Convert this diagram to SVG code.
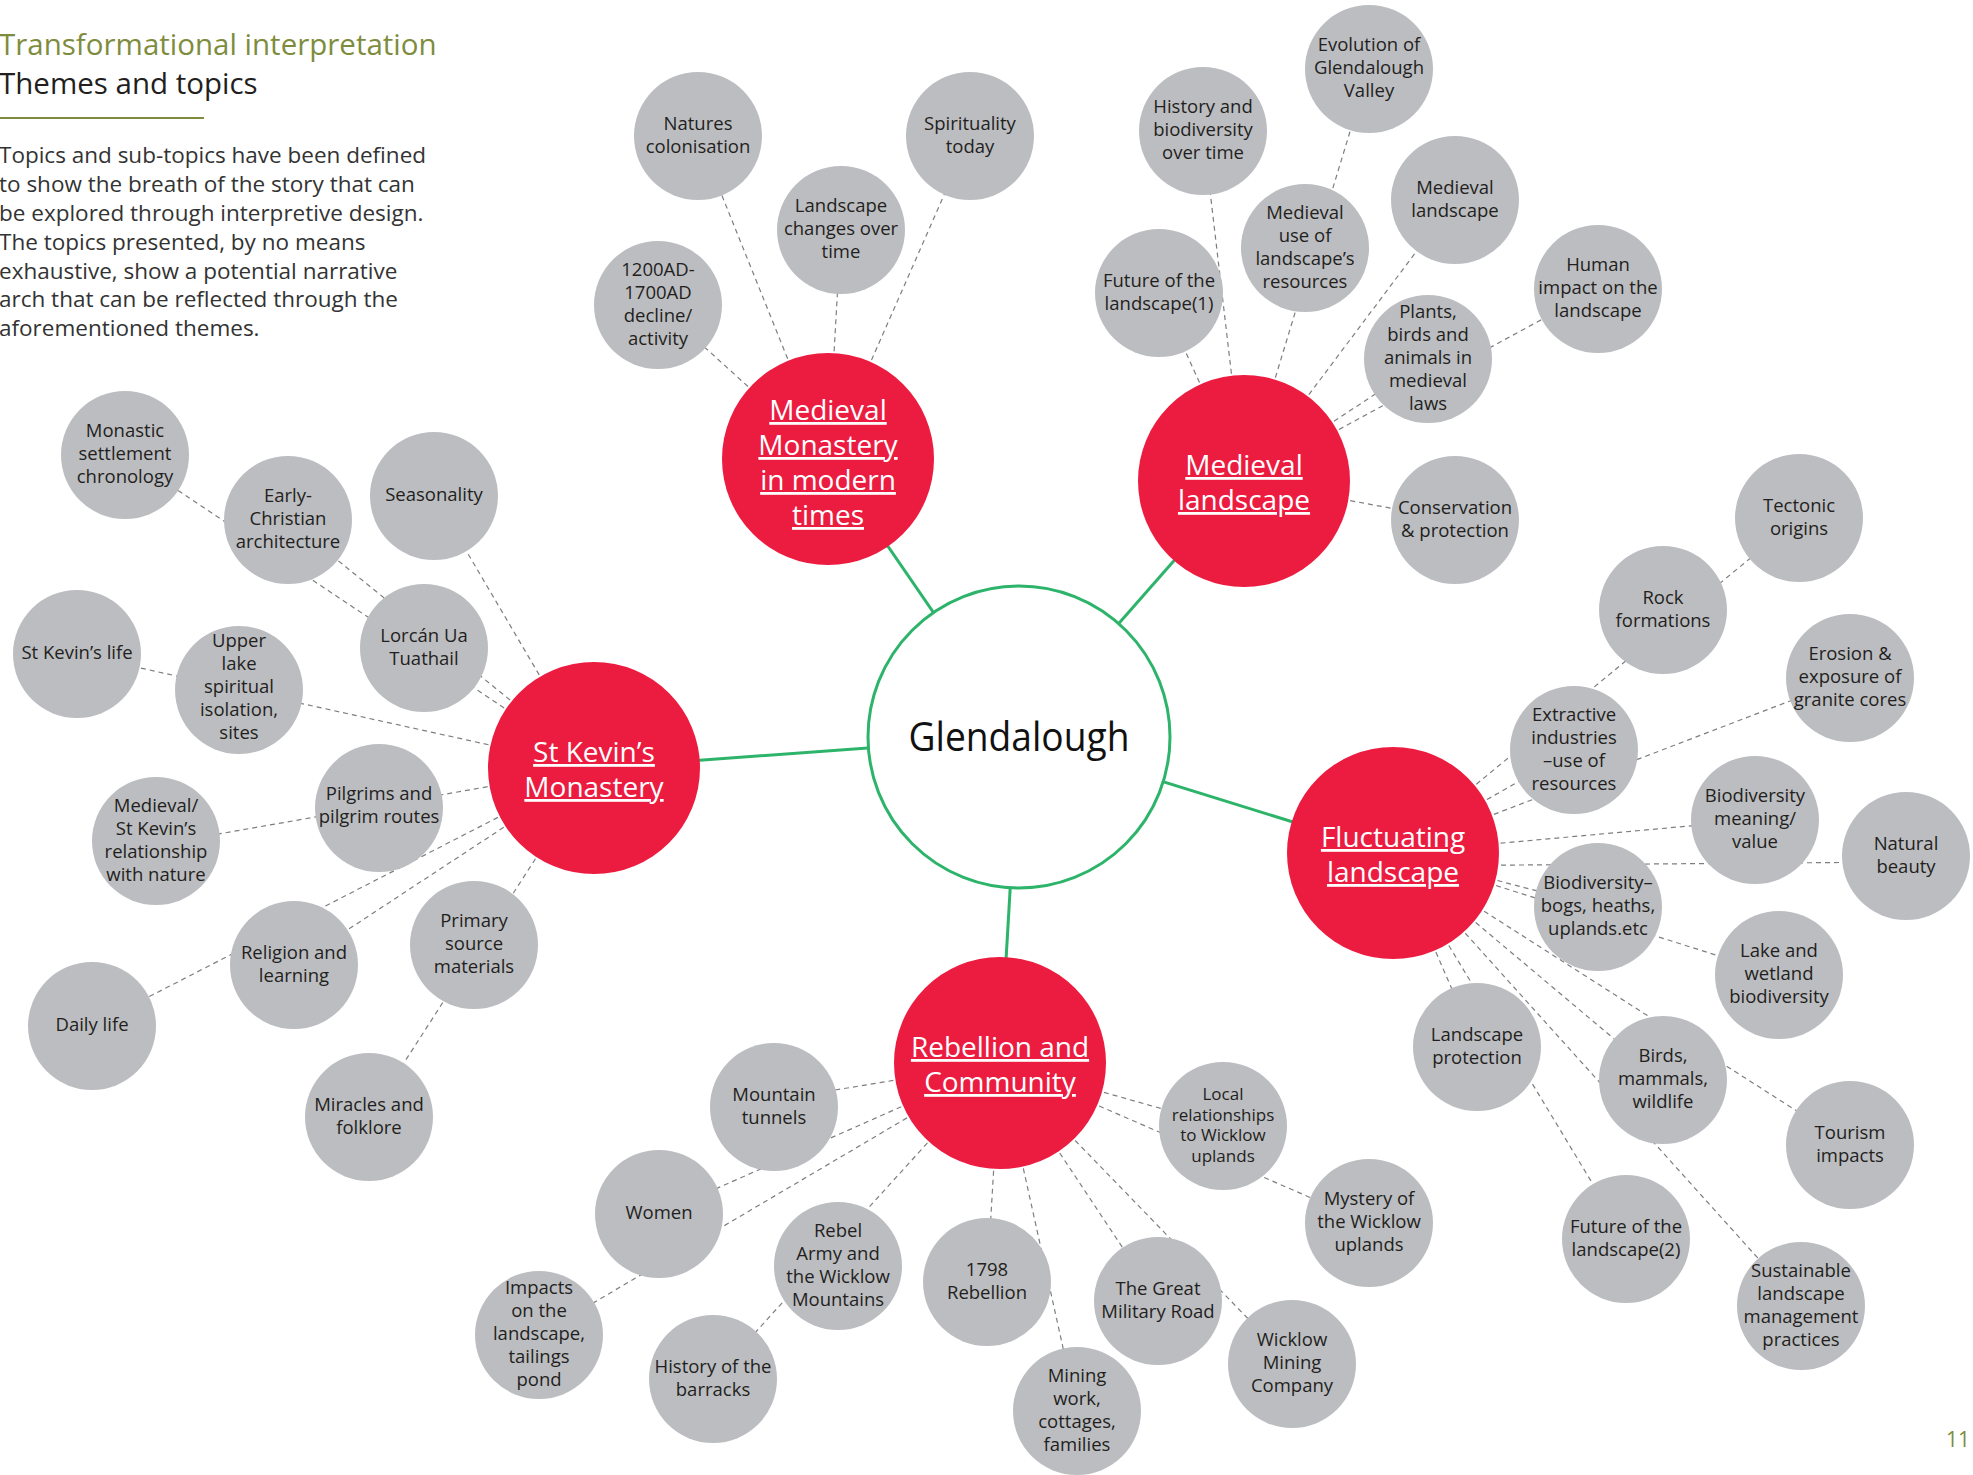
<svg xmlns="http://www.w3.org/2000/svg" width="1973" height="1475" viewBox="0 0 1973 1475">
<style>
text{font-family:"Open Sans","Noto Sans","DejaVu Sans",sans-serif}
.bg{fill:#ffffff}
.gc{fill:#BCBDC0}
.rc{fill:#EC1C41}
.t{font-size:18.5px;fill:#231F20;text-anchor:middle}
.ts{font-size:17px}
.rt{font-size:28px;fill:#ffffff;text-anchor:middle;text-decoration:underline}
.d{stroke:#7d7e81;stroke-width:1.2;stroke-dasharray:5 4;fill:none}
.gl{stroke:#2DB46A;stroke-width:3;fill:none}
.title{font-size:29.5px;font-weight:400;fill:#7E8C3E}
.sub{font-size:29.5px;font-weight:400;fill:#231F20}
.body{font-size:22.5px;fill:#333333}
</style>
<rect class="bg" x="0" y="0" width="1973" height="1475"/>
<g id="header">
<text class="title" x="-1" y="55">Transformational interpretation</text>
<text class="sub" x="-1" y="94">Themes and topics</text>
<line x1="0" y1="118" x2="204" y2="118" stroke="#7E8C3E" stroke-width="2"/>
<text class="body" x="-1" y="163">Topics and sub-topics have been defined</text>
<text class="body" x="-1" y="192">to show the breath of the story that can</text>
<text class="body" x="-1" y="221">be explored through interpretive design.</text>
<text class="body" x="-1" y="250">The topics presented, by no means</text>
<text class="body" x="-1" y="279">exhaustive, show a potential narrative</text>
<text class="body" x="-1" y="307">arch that can be reflected through the</text>
<text class="body" x="-1" y="336">aforementioned themes.</text>
</g>
<g id="connectors">
<line class="gl" x1="1019" y1="737" x2="828" y2="459"/>
<line class="gl" x1="1019" y1="737" x2="1244" y2="481"/>
<line class="gl" x1="1019" y1="737" x2="594" y2="768"/>
<line class="gl" x1="1019" y1="737" x2="1000" y2="1063"/>
<line class="gl" x1="1019" y1="737" x2="1393" y2="853"/>
<line class="d" x1="828" y1="459" x2="698" y2="136"/>
<line class="d" x1="828" y1="459" x2="970" y2="136"/>
<line class="d" x1="828" y1="459" x2="841" y2="230"/>
<line class="d" x1="828" y1="459" x2="658" y2="305"/>
<line class="d" x1="1244" y1="481" x2="1369" y2="69"/>
<line class="d" x1="1244" y1="481" x2="1203" y2="131"/>
<line class="d" x1="1244" y1="481" x2="1455" y2="200"/>
<line class="d" x1="1244" y1="481" x2="1159" y2="293"/>
<line class="d" x1="1244" y1="481" x2="1598" y2="289"/>
<line class="d" x1="1244" y1="481" x2="1428" y2="359"/>
<line class="d" x1="1244" y1="481" x2="1455" y2="520"/>
<line class="d" x1="594" y1="768" x2="125" y2="455"/>
<line class="d" x1="594" y1="768" x2="288" y2="520"/>
<line class="d" x1="594" y1="768" x2="434" y2="496"/>
<line class="d" x1="594" y1="768" x2="77" y2="654"/>
<line class="d" x1="594" y1="768" x2="156" y2="845"/>
<line class="d" x1="594" y1="768" x2="294" y2="965"/>
<line class="d" x1="594" y1="768" x2="92" y2="1026"/>
<line class="d" x1="594" y1="768" x2="369" y2="1117"/>
<line class="d" x1="1000" y1="1063" x2="774" y2="1100"/>
<line class="d" x1="1000" y1="1063" x2="659" y2="1214"/>
<line class="d" x1="1000" y1="1063" x2="539" y2="1335"/>
<line class="d" x1="1000" y1="1063" x2="713" y2="1379"/>
<line class="d" x1="1000" y1="1063" x2="987" y2="1282"/>
<line class="d" x1="1000" y1="1063" x2="1077" y2="1411"/>
<line class="d" x1="1000" y1="1063" x2="1158" y2="1301"/>
<line class="d" x1="1000" y1="1063" x2="1292" y2="1364"/>
<line class="d" x1="1000" y1="1063" x2="1223" y2="1126"/>
<line class="d" x1="1000" y1="1063" x2="1369" y2="1223"/>
<line class="d" x1="1393" y1="853" x2="1799" y2="518"/>
<line class="d" x1="1393" y1="853" x2="1574" y2="750"/>
<line class="d" x1="1393" y1="853" x2="1850" y2="678"/>
<line class="d" x1="1393" y1="853" x2="1755" y2="820"/>
<line class="d" x1="1393" y1="866" x2="1906" y2="862"/>
<line class="d" x1="1393" y1="853" x2="1598" y2="907"/>
<line class="d" x1="1393" y1="853" x2="1779" y2="975"/>
<line class="d" x1="1393" y1="853" x2="1477" y2="1047"/>
<line class="d" x1="1393" y1="853" x2="1626" y2="1239"/>
<line class="d" x1="1393" y1="853" x2="1801" y2="1306"/>
<line class="d" x1="1393" y1="853" x2="1663" y2="1080"/>
<line class="d" x1="1393" y1="853" x2="1850" y2="1145"/>
</g>
<g id="center">
<circle cx="1019" cy="737" r="151" fill="#ffffff" stroke="#2DB46A" stroke-width="3"/>
<text x="1019" y="751" font-size="40" text-anchor="middle" fill="#111111" textLength="221" lengthAdjust="spacingAndGlyphs">Glendalough</text>
</g>
<g id="theme-medieval-monastery"><circle class="rc" cx="828" cy="459" r="106"/><text class="rt"><tspan x="828" y="420">Medieval</tspan><tspan x="828" y="455">Monastery</tspan><tspan x="828" y="490">in modern</tspan><tspan x="828" y="525">times</tspan></text></g>
<g id="theme-medieval-landscape"><circle class="rc" cx="1244" cy="481" r="106"/><text class="rt"><tspan x="1244" y="475">Medieval</tspan><tspan x="1244" y="510">landscape</tspan></text></g>
<g id="theme-st-kevins"><circle class="rc" cx="594" cy="768" r="106"/><text class="rt"><tspan x="594" y="762">St Kevin’s</tspan><tspan x="594" y="797">Monastery</tspan></text></g>
<g id="theme-rebellion"><circle class="rc" cx="1000" cy="1063" r="106"/><text class="rt"><tspan x="1000" y="1057">Rebellion and</tspan><tspan x="1000" y="1092">Community</tspan></text></g>
<g id="theme-fluctuating"><circle class="rc" cx="1393" cy="853" r="106"/><text class="rt"><tspan x="1393" y="847">Fluctuating</tspan><tspan x="1393" y="882">landscape</tspan></text></g>

<g id="n-natures"><circle class="gc" cx="698" cy="136" r="64"/><text class="t"><tspan x="698" y="129.5">Natures</tspan><tspan x="698" dy="23">colonisation</tspan></text></g>
<g id="n-spirituality"><circle class="gc" cx="970" cy="136" r="64"/><text class="t"><tspan x="970" y="129.5">Spirituality</tspan><tspan x="970" dy="23">today</tspan></text></g>
<g id="n-landscape-changes"><circle class="gc" cx="841" cy="230" r="64"/><text class="t"><tspan x="841" y="212">Landscape</tspan><tspan x="841" dy="23">changes over</tspan><tspan x="841" dy="23">time</tspan></text></g>
<g id="n-1200ad"><circle class="gc" cx="658" cy="305" r="64"/><text class="t"><tspan x="658" y="275.5">1200AD-</tspan><tspan x="658" dy="23">1700AD</tspan><tspan x="658" dy="23">decline/</tspan><tspan x="658" dy="23">activity</tspan></text></g>

<g id="n-evolution"><circle class="gc" cx="1369" cy="69" r="64"/><text class="t"><tspan x="1369" y="51">Evolution of</tspan><tspan x="1369" dy="23">Glendalough</tspan><tspan x="1369" dy="23">Valley</tspan></text></g>
<g id="n-history-biodiversity"><circle class="gc" cx="1203" cy="131" r="64"/><text class="t"><tspan x="1203" y="113">History and</tspan><tspan x="1203" dy="23">biodiversity</tspan><tspan x="1203" dy="23">over time</tspan></text></g>
<g id="n-medieval-landscape"><circle class="gc" cx="1455" cy="200" r="64"/><text class="t"><tspan x="1455" y="193.5">Medieval</tspan><tspan x="1455" dy="23">landscape</tspan></text></g>
<g id="n-medieval-use"><circle class="gc" cx="1305" cy="248" r="64"/><text class="t"><tspan x="1305" y="218.5">Medieval</tspan><tspan x="1305" dy="23">use of</tspan><tspan x="1305" dy="23">landscape’s</tspan><tspan x="1305" dy="23">resources</tspan></text></g>
<g id="n-future1"><circle class="gc" cx="1159" cy="293" r="64"/><text class="t"><tspan x="1159" y="286.5">Future of the</tspan><tspan x="1159" dy="23">landscape(1)</tspan></text></g>
<g id="n-human-impact"><circle class="gc" cx="1598" cy="289" r="64"/><text class="t"><tspan x="1598" y="271">Human</tspan><tspan x="1598" dy="23">impact on the</tspan><tspan x="1598" dy="23">landscape</tspan></text></g>
<g id="n-plants"><circle class="gc" cx="1428" cy="359" r="64"/><text class="t"><tspan x="1428" y="318">Plants,</tspan><tspan x="1428" dy="23">birds and</tspan><tspan x="1428" dy="23">animals in</tspan><tspan x="1428" dy="23">medieval</tspan><tspan x="1428" dy="23">laws</tspan></text></g>
<g id="n-conservation"><circle class="gc" cx="1455" cy="520" r="64"/><text class="t"><tspan x="1455" y="513.5">Conservation</tspan><tspan x="1455" dy="23">&amp; protection</tspan></text></g>

<g id="n-tectonic"><circle class="gc" cx="1799" cy="518" r="64"/><text class="t"><tspan x="1799" y="511.5">Tectonic</tspan><tspan x="1799" dy="23">origins</tspan></text></g>
<g id="n-rock"><circle class="gc" cx="1663" cy="610" r="64"/><text class="t"><tspan x="1663" y="603.5">Rock</tspan><tspan x="1663" dy="23">formations</tspan></text></g>
<g id="n-erosion"><circle class="gc" cx="1850" cy="678" r="64"/><text class="t"><tspan x="1850" y="660">Erosion &amp;</tspan><tspan x="1850" dy="23">exposure of</tspan><tspan x="1850" dy="23">granite cores</tspan></text></g>
<g id="n-extractive"><circle class="gc" cx="1574" cy="750" r="64"/><text class="t"><tspan x="1574" y="720.5">Extractive</tspan><tspan x="1574" dy="23">industries</tspan><tspan x="1574" dy="23">–use of</tspan><tspan x="1574" dy="23">resources</tspan></text></g>
<g id="n-biodiv-meaning"><circle class="gc" cx="1755" cy="820" r="64"/><text class="t"><tspan x="1755" y="802">Biodiversity</tspan><tspan x="1755" dy="23">meaning/</tspan><tspan x="1755" dy="23">value</tspan></text></g>
<g id="n-natural-beauty"><circle class="gc" cx="1906" cy="856" r="64"/><text class="t"><tspan x="1906" y="849.5">Natural</tspan><tspan x="1906" dy="23">beauty</tspan></text></g>
<g id="n-bogs"><circle class="gc" cx="1598" cy="907" r="64"/><text class="t"><tspan x="1598" y="889">Biodiversity–</tspan><tspan x="1598" dy="23">bogs, heaths,</tspan><tspan x="1598" dy="23">uplands.etc</tspan></text></g>
<g id="n-lake"><circle class="gc" cx="1779" cy="975" r="64"/><text class="t"><tspan x="1779" y="957">Lake and</tspan><tspan x="1779" dy="23">wetland</tspan><tspan x="1779" dy="23">biodiversity</tspan></text></g>
<g id="n-landscape-protection"><circle class="gc" cx="1477" cy="1047" r="64"/><text class="t"><tspan x="1477" y="1040.5">Landscape</tspan><tspan x="1477" dy="23">protection</tspan></text></g>
<g id="n-birds"><circle class="gc" cx="1663" cy="1080" r="64"/><text class="t"><tspan x="1663" y="1062">Birds,</tspan><tspan x="1663" dy="23">mammals,</tspan><tspan x="1663" dy="23">wildlife</tspan></text></g>
<g id="n-tourism"><circle class="gc" cx="1850" cy="1145" r="64"/><text class="t"><tspan x="1850" y="1138.5">Tourism</tspan><tspan x="1850" dy="23">impacts</tspan></text></g>
<g id="n-future2"><circle class="gc" cx="1626" cy="1239" r="64"/><text class="t"><tspan x="1626" y="1232.5">Future of the</tspan><tspan x="1626" dy="23">landscape(2)</tspan></text></g>
<g id="n-sustainable"><circle class="gc" cx="1801" cy="1306" r="64"/><text class="t"><tspan x="1801" y="1276.5">Sustainable</tspan><tspan x="1801" dy="23">landscape</tspan><tspan x="1801" dy="23">management</tspan><tspan x="1801" dy="23">practices</tspan></text></g>

<g id="n-mountain-tunnels"><circle class="gc" cx="774" cy="1107" r="64"/><text class="t"><tspan x="774" y="1100.5">Mountain</tspan><tspan x="774" dy="23">tunnels</tspan></text></g>
<g id="n-local"><circle class="gc" cx="1223" cy="1126" r="64"/><text class="t ts"><tspan x="1223" y="1100">Local</tspan><tspan x="1223" dy="20.5">relationships</tspan><tspan x="1223" dy="20.5">to Wicklow</tspan><tspan x="1223" dy="20.5">uplands</tspan></text></g>
<g id="n-women"><circle class="gc" cx="659" cy="1214" r="64"/><text class="t"><tspan x="659" y="1219">Women</tspan></text></g>
<g id="n-mystery"><circle class="gc" cx="1369" cy="1223" r="64"/><text class="t"><tspan x="1369" y="1205">Mystery of</tspan><tspan x="1369" dy="23">the Wicklow</tspan><tspan x="1369" dy="23">uplands</tspan></text></g>
<g id="n-rebel-army"><circle class="gc" cx="838" cy="1266" r="64"/><text class="t"><tspan x="838" y="1236.5">Rebel</tspan><tspan x="838" dy="23">Army and</tspan><tspan x="838" dy="23">the Wicklow</tspan><tspan x="838" dy="23">Mountains</tspan></text></g>
<g id="n-1798"><circle class="gc" cx="987" cy="1282" r="64"/><text class="t"><tspan x="987" y="1275.5">1798</tspan><tspan x="987" dy="23">Rebellion</tspan></text></g>
<g id="n-military-road"><circle class="gc" cx="1158" cy="1301" r="64"/><text class="t"><tspan x="1158" y="1294.5">The Great</tspan><tspan x="1158" dy="23">Military Road</tspan></text></g>
<g id="n-impacts"><circle class="gc" cx="539" cy="1335" r="64"/><text class="t"><tspan x="539" y="1294">Impacts</tspan><tspan x="539" dy="23">on the</tspan><tspan x="539" dy="23">landscape,</tspan><tspan x="539" dy="23">tailings</tspan><tspan x="539" dy="23">pond</tspan></text></g>
<g id="n-wicklow-mining"><circle class="gc" cx="1292" cy="1364" r="64"/><text class="t"><tspan x="1292" y="1346">Wicklow</tspan><tspan x="1292" dy="23">Mining</tspan><tspan x="1292" dy="23">Company</tspan></text></g>
<g id="n-barracks"><circle class="gc" cx="713" cy="1379" r="64"/><text class="t"><tspan x="713" y="1372.5">History of the</tspan><tspan x="713" dy="23">barracks</tspan></text></g>
<g id="n-mining-work"><circle class="gc" cx="1077" cy="1411" r="64"/><text class="t"><tspan x="1077" y="1381.5">Mining</tspan><tspan x="1077" dy="23">work,</tspan><tspan x="1077" dy="23">cottages,</tspan><tspan x="1077" dy="23">families</tspan></text></g>

<g id="n-monastic"><circle class="gc" cx="125" cy="455" r="64"/><text class="t"><tspan x="125" y="437">Monastic</tspan><tspan x="125" dy="23">settlement</tspan><tspan x="125" dy="23">chronology</tspan></text></g>
<g id="n-seasonality"><circle class="gc" cx="434" cy="496" r="64"/><text class="t"><tspan x="434" y="501">Seasonality</tspan></text></g>
<g id="n-early-christian"><circle class="gc" cx="288" cy="520" r="64"/><text class="t"><tspan x="288" y="502">Early-</tspan><tspan x="288" dy="23">Christian</tspan><tspan x="288" dy="23">architecture</tspan></text></g>
<g id="n-lorcan"><circle class="gc" cx="424" cy="648" r="64"/><text class="t"><tspan x="424" y="641.5">Lorcán Ua</tspan><tspan x="424" dy="23">Tuathail</tspan></text></g>
<g id="n-st-kevins-life"><circle class="gc" cx="77" cy="654" r="64"/><text class="t"><tspan x="77" y="659">St Kevin’s life</tspan></text></g>
<g id="n-upper-lake"><circle class="gc" cx="239" cy="690" r="64"/><text class="t"><tspan x="239" y="647">Upper</tspan><tspan x="239" dy="23">lake</tspan><tspan x="239" dy="23">spiritual</tspan><tspan x="239" dy="23">isolation,</tspan><tspan x="239" dy="23">sites</tspan></text></g>
<g id="n-pilgrims"><circle class="gc" cx="379" cy="808" r="64"/><text class="t"><tspan x="379" y="800">Pilgrims and</tspan><tspan x="379" dy="23">pilgrim routes</tspan></text></g>
<g id="n-medieval-nature"><circle class="gc" cx="156" cy="841" r="64"/><text class="t"><tspan x="156" y="811.5">Medieval/</tspan><tspan x="156" dy="23">St Kevin’s</tspan><tspan x="156" dy="23">relationship</tspan><tspan x="156" dy="23">with nature</tspan></text></g>
<g id="n-religion"><circle class="gc" cx="294" cy="965" r="64"/><text class="t"><tspan x="294" y="958.5">Religion and</tspan><tspan x="294" dy="23">learning</tspan></text></g>
<g id="n-primary"><circle class="gc" cx="474" cy="945" r="64"/><text class="t"><tspan x="474" y="927">Primary</tspan><tspan x="474" dy="23">source</tspan><tspan x="474" dy="23">materials</tspan></text></g>
<g id="n-daily-life"><circle class="gc" cx="92" cy="1026" r="64"/><text class="t"><tspan x="92" y="1031">Daily life</tspan></text></g>
<g id="n-miracles"><circle class="gc" cx="369" cy="1117" r="64"/><text class="t"><tspan x="369" y="1110.5">Miracles and</tspan><tspan x="369" dy="23">folklore</tspan></text></g>

<text x="1970" y="1447" font-size="21" text-anchor="end" fill="#7E8C3E">11</text>
</svg>
